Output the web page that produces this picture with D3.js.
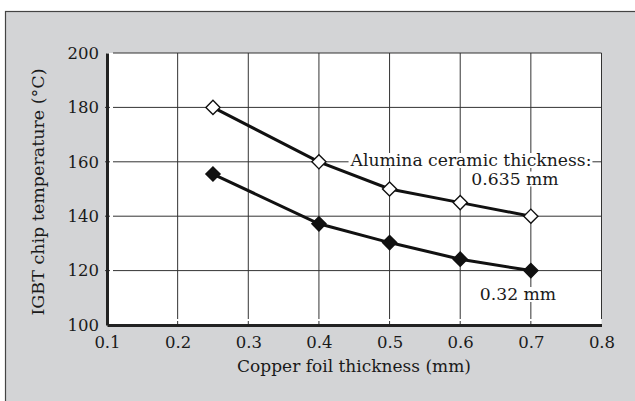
<!DOCTYPE html>
<html><head><meta charset="utf-8">
<script src="https://cdn.jsdelivr.net/npm/d3@7"></script>
<style>body{margin:0;background:#fff}svg{display:block}text{font-family:"DejaVu Serif",serif;fill:#1a1a1a}</style>
</head><body>
<script>
const xValues = [0.25, 0.4, 0.5, 0.6, 0.7];
const series635 = [180, 160, 150, 145, 140];
const series032 = [155.5, 137.2, 130.3, 124.2, 120];
const xTicks = [0.1, 0.2, 0.3, 0.4, 0.5, 0.6, 0.7, 0.8];
const yTicks = [100, 120, 140, 160, 180, 200];
const xTitle = "Copper foil thickness (mm)";
const yTitle = "IGBT chip temperature (°C)";

const W = 635, H = 401;
const svg = d3.select("body").append("svg").attr("width", W).attr("height", H);
svg.append("rect").attr("x", 5.5).attr("y", 11.5).attr("width", W).attr("height", H)
  .attr("fill", "#d3d4d6").attr("stroke", "#444").attr("stroke-width", 1.2);

const x = d3.scaleLinear().domain([0.1, 0.8]).range([107, 601.5]);
const y = d3.scaleLinear().domain([100, 200]).range([325, 53]);

svg.append("rect").attr("x", x(0.1)).attr("y", y(200)).attr("width", x(0.8) - x(0.1)).attr("height", y(100) - y(200)).attr("fill", "#fff");

const g = svg.append("g");
// grid
g.selectAll(".vg").data(xTicks.slice(1)).join("line")
  .attr("x1", d => x(d)).attr("x2", d => x(d)).attr("y1", y(200)).attr("y2", y(100) - 6)
  .attr("stroke", "#333").attr("stroke-width", 1);
g.selectAll(".vt").data(xTicks.slice(1, -1)).join("line")
  .attr("x1", d => x(d)).attr("x2", d => x(d)).attr("y1", y(100) - 4).attr("y2", y(100))
  .attr("stroke", "#333").attr("stroke-width", 1);
g.selectAll(".hg").data(yTicks.slice(1)).join("line")
  .attr("x1", x(0.1) + 6).attr("x2", x(0.8)).attr("y1", d => y(d)).attr("y2", d => y(d))
  .attr("stroke", "#333").attr("stroke-width", 1);
g.selectAll(".ht").data(yTicks.slice(1, -1)).join("line")
  .attr("x1", x(0.1) - 2).attr("x2", x(0.1) + 3).attr("y1", d => y(d)).attr("y2", d => y(d))
  .attr("stroke", "#333").attr("stroke-width", 1);

// axes
const xAxis = d3.axisBottom(x).tickValues(xTicks).tickFormat(d3.format(".1f")).tickSize(0).tickPadding(11);
const xa = svg.append("g").attr("transform", `translate(0,${y(100)})`).call(xAxis);
xa.select(".domain").attr("stroke", "#222").attr("stroke-width", 3);
xa.selectAll("text").attr("font-size", 16.5).attr("fill", "#1a1a1a").attr("font-family", "DejaVu Serif");

const yAxis = d3.axisLeft(y).tickValues(yTicks).tickSize(0).tickPadding(8);
const ya = svg.append("g").attr("transform", `translate(${x(0.1)},0)`).call(yAxis);
ya.select(".domain").attr("stroke", "#222").attr("stroke-width", 3);
ya.selectAll("text").attr("font-size", 16.5).attr("fill", "#1a1a1a").attr("font-family", "DejaVu Serif");

// titles
svg.append("text").attr("x", 354).attr("y", 372).attr("text-anchor", "middle")
  .attr("font-size", 17).text(xTitle);
svg.append("text").attr("transform", `translate(44,192) rotate(-90)`)
  .attr("text-anchor", "middle").attr("font-size", 17.5).text(yTitle);

// annotations with white backgrounds
function label(txt, cx, cy, anchor) {
  const t = svg.append("text").attr("x", cx).attr("y", cy).attr("text-anchor", anchor)
    .attr("font-size", 17.2).attr("dominant-baseline", "middle").text(txt);
  const b = t.node().getBBox();
  svg.insert("rect", () => t.node()).attr("x", b.x - 1).attr("y", b.y + 3).attr("width", b.width + 2).attr("height", b.height - 5).attr("fill", "#fff");
}
label("Alumina ceramic thickness:", 471, 161.5, "middle");
label("0.635 mm", 515, 180, "middle");
label("0.32 mm", 518, 295.5, "middle");

// series
const line = d3.line().x(d => x(d[0])).y(d => y(d[1]));
const d635 = xValues.map((v, i) => [v, series635[i]]);
const d032 = xValues.map((v, i) => [v, series032[i]]);
[d635, d032].forEach(d => {
  svg.append("path").datum(d).attr("d", line).attr("fill", "none").attr("stroke", "#111").attr("stroke-width", 3);
});
const diamond = d3.symbol().type(d3.symbolSquare).size(100);
svg.selectAll(".m1").data(d635).join("path").attr("d", diamond)
  .attr("transform", d => `translate(${x(d[0])},${y(d[1])}) rotate(45)`)
  .attr("fill", "#fff").attr("stroke", "#111").attr("stroke-width", 1.4);
svg.selectAll(".m2").data(d032).join("path").attr("d", diamond)
  .attr("transform", d => `translate(${x(d[0])},${y(d[1])}) rotate(45)`)
  .attr("fill", "#111").attr("stroke", "#111").attr("stroke-width", 1.4);
</script>
</body></html>
